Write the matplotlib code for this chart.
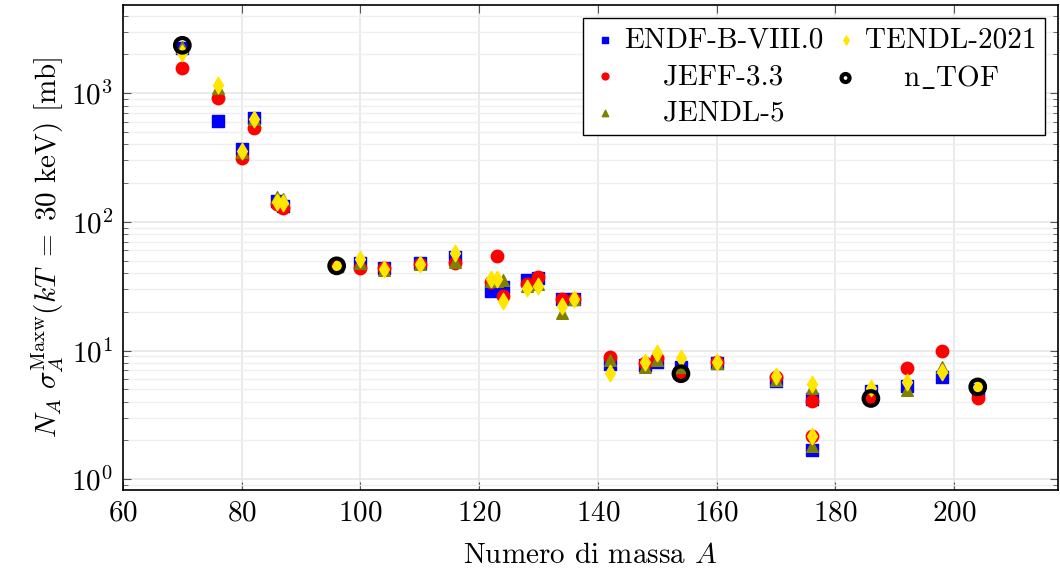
import numpy as np
import matplotlib
matplotlib.use("Agg")
import matplotlib.pyplot as plt
from matplotlib.ticker import LogLocator, FixedLocator

plt.rcParams['font.family'] = 'serif'
plt.rcParams['font.serif'] = ['cmr10', 'DejaVu Serif']
plt.rcParams['mathtext.fontset'] = 'cm'
plt.rcParams['axes.formatter.use_mathtext'] = True

mass_A = [70, 76, 80, 82, 86, 87, 96, 100, 104, 110, 116, 122, 123, 124, 128, 130,
          134, 136, 142, 148, 150, 154, 160, 170, 176, 176, 186, 192, 198, 204]

endf = [2250, 605, 365, 638, 145, 133, 45, 47.5, 44, 47.5, 53, 29, 30, 31, 35.2, 36.5,
        25.3, 25, 7.8, 7.7, 8.15, 7.4, 8.0, 5.77, 4.19, 1.68, 4.85, 5.3, 6.17, 4.9]
jeff = [1560, 918, 314, 533, 138, 127, 45, 43.4, 44, 47, 47.5, 34, 54.4, 26.4, 32.7, 37.3,
        25.3, 25, 8.9, 8.0, 8.8, 6.8, 8.2, 6.17, 4.04, 2.16, 4.3, 7.33, 9.88, 4.28]
jendl = [2300, 1100, 350, 630, 155, 150, 45, 47.5, 42, 47, 48.5, 35, 35, 35.3, 32, 33,
         19.6, 25, 8.4, 7.4, 8.4, 7.4, 8.0, 5.9, 5.07, 1.80, 5.07, 4.92, 7.47, 5.3]
tendl = [2040, 1151, 354, 630, 142, 140, 45, 51, 42.8, 47, 57, 36, 36, 24.3, 30.8, 31.6,
         22, 25, 6.7, 8.15, 9.6, 8.77, 8.1, 6.3, 5.54, 2.16, 5.07, 5.7, 6.82, 5.2]

ntof_A = [70, 96, 154, 186, 204]
ntof = [2355, 45.5, 6.6, 4.24, 5.21]

FS = 21

fig = plt.figure(figsize=(10.6, 5.74), dpi=100)
ax = fig.add_axes([0.116, 0.146, 0.882, 0.845])

ax.scatter(mass_A, endf, marker='s', s=70, color='#0000ff', label='ENDF-B-VIII.0', zorder=3)
ax.scatter(mass_A, jeff, marker='o', s=80, color='#ff0000', label='JEFF-3.3', zorder=4)
ax.scatter(mass_A, jendl, marker='^', s=70, color='#808000', label='JENDL-5', zorder=5)
ax.scatter(mass_A, tendl, marker='d', s=70, color='#ffe600', label='TENDL-2021', zorder=6)
ax.scatter(ntof_A, ntof, marker='o', s=110, facecolors='none', edgecolors='black',
           linewidths=3, label='n_TOF', zorder=7)

ax.set_yscale('log')
ax.set_xlim(60, 217.5)
ax.set_ylim(0.821, 4830)
ax.xaxis.set_major_locator(FixedLocator([60, 80, 100, 120, 140, 160, 180, 200]))
ax.yaxis.set_major_locator(LogLocator(base=10, numticks=10))
ax.yaxis.set_minor_locator(LogLocator(base=10, subs=np.arange(2, 10), numticks=20))

ax.grid(True, which='major', color='#e6e6e6', linewidth=1.2, zorder=0)
ax.grid(True, which='minor', axis='y', color='#efefef', linewidth=1.0, zorder=0)
ax.set_axisbelow(True)

ax.tick_params(which='both', direction='in', top=True, right=True, color='#555555')
ax.tick_params(which='major', length=6, labelsize=FS, pad=7)
ax.tick_params(which='minor', length=3.5)
for sp in ax.spines.values():
    sp.set_linewidth(1.2)

ax.set_xlabel(r'Numero di massa $A$', fontsize=FS, labelpad=12)
ax.set_ylabel(r'$N_A\ \sigma_A^{\mathrm{Maxw}}(kT\ =\ 30\ \mathrm{keV})$ [mb]', fontsize=FS, labelpad=4)

handles, labels = ax.get_legend_handles_labels()
labels = ['ENDF-B-VIII.0', '    JEFF-3.3', '    JENDL-5', 'TENDL-2021', r'    n$\_$TOF']
leg = ax.legend(handles, labels, loc='upper right', ncol=2, fontsize=FS, frameon=True,
                fancybox=False, edgecolor='black', framealpha=1, markerscale=0.55,
                handletextpad=0.2, columnspacing=0.3, handlelength=0.9,
                borderpad=0.3, labelspacing=0.35, borderaxespad=0.45)
leg.get_frame().set_linewidth(1.0)

fig.savefig('out.png', dpi=100)
